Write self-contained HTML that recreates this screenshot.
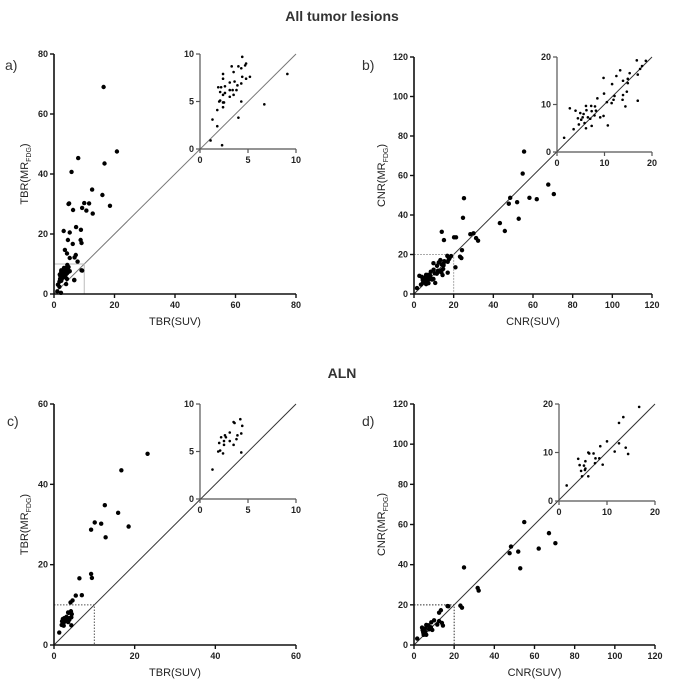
<!DOCTYPE html>
<html><head><meta charset="utf-8"><style>
body{margin:0;background:#fff;font-family:"Liberation Sans",Arial,sans-serif}
svg text{font-family:"Liberation Sans",Arial,sans-serif}
</style></head><body>
<svg id="fig" width="685" height="689" viewBox="0 0 685 689" xmlns="http://www.w3.org/2000/svg">
<text x="342" y="21" text-anchor="middle" font-size="14" font-weight="bold" fill="#333">All tumor lesions</text>
<text x="342" y="378" text-anchor="middle" font-size="14" font-weight="bold" fill="#333">ALN</text>
</svg>
<script>
// Panel a data
const aMainX=[16.4,20.8,16.7,8,5.8,12.6,16,18.5,12.8,10,11.6,10.7,9.3,6.3,4.8,5,3.2,5.2,7.3,8.9,4.6,8.8,9.1,6.2,3.6,4.3,7.2,6.8,5.2,9.3,6.7,7.8];
const aMainY=[69,47.5,43.5,45.3,40.7,34.8,33,29.4,26.8,30.3,30.2,27.8,28.7,28,30,30.2,21,20.5,22.3,21.4,18,18,17,16.7,14.7,13.5,13,12.2,12,7.8,4.6,10.8];
const aInX=[4.4,4.8,4.7,3.3,4.0,4.3,2.4,3.5,9.1,5.2,4.4,4.8,2.4,3.1,3.6,2.6,1.9,2.2,3.9,4.3,3.1,3.4,2.1,2.6,3.8,2.4,3.1,3.5,2.1,2.0,2.4,2.5,4.3,2.4,1.8,1.3,4.0,1.8,6.7,1.1,2.3];
const aInY=[9.7,9.0,8.8,8.7,8.7,8.5,7.9,8.1,7.9,7.6,7.6,7.4,7.4,7.0,7.1,6.6,6.5,6.5,6.7,6.9,6.2,6.2,6.0,5.9,6.2,5.7,5.5,5.7,5.1,5.0,4.9,4.9,5.0,4.4,4.1,3.1,3.3,2.4,4.7,0.9,0.4];
// Panel b data
const bMainX=[55.5,54.8,67.7,70.5,48.5,58.2,61.9,47.8,52,52.8,43.3,45.8,25.2,24.7,14,15.1,20.2,21.2,28.4,30,31.3,32.3,24.2,23.2,23.9,20.9];
const bMainY=[72.1,61,55.4,50.6,48.7,48.7,48,45.7,46.5,38.1,35.9,31.9,48.5,38.6,31.5,27.3,28.7,28.7,30.3,30.7,28.3,27,22.2,18.9,18.2,13.5];
const bInX=[18.7,17.9,17.5,16.8,17.0,15.3,14.9,13.3,12.5,11.6,9.8,13.9,14.9,14.7,13.9,13.8,14.4,17.0,12.1,11.9,11.5,10.5,9.9,8.5,2.7,3.9,6.1,7.2,4.9,5.6,6.2,7.3,8.2,8.0,4.4,5.4,6.5,7.0,7.9,9.8,9.1,5.1,5.8,4.6,3.5,6.1,7.3,10.7,1.5];
const bInY=[19.2,18.1,17.5,19.3,16.3,16.6,15.4,17.2,16.0,14.3,15.6,15.0,14.5,12.7,12.0,11.0,9.6,10.8,11.8,11.0,10.3,10.5,12.3,11.3,9.2,8.7,9.7,9.7,8.2,8.0,8.8,8.6,8.7,9.6,7.1,7.3,7.3,7.0,7.7,7.6,7.3,6.8,6.1,5.8,4.8,5.0,5.5,5.6,3.0];
// Panel c data
const cMainX=[23.2,16.7,12.6,15.9,10.1,11.7,18.5,9.2,12.8,9.2,9.4,6.3,5.4,6.9,4.6,4.1];
const cMainY=[47.6,43.5,34.8,32.9,30.5,30.2,29.5,28.7,26.8,17.7,16.7,16.6,12.3,12.4,11.1,10.6];
const cInX=[1.3,1.9,2.1,2.4,2.0,2.2,2.5,2.6,2.7,2.5,3.1,3.1,3.5,3.6,3.5,3.8,3.9,4.2,4.4,4.3,4.3];
const cInY=[3.1,5.0,5.1,4.8,5.9,6.5,6.1,6.7,6.5,5.7,7.0,6.1,8.1,8.0,5.7,6.3,6.7,8.4,7.7,6.9,4.9];
// Panel d data
const dMainX=[54.9,67.2,70.4,48.3,47.6,51.9,62.1,52.9,24.9,31.7,32.2,17.1,23.1,23.9];
const dMainY=[61.2,55.7,50.7,49.0,45.7,46.5,48.0,38.2,38.6,28.4,27.1,19.3,19.6,18.6];
const dInX=[16.7,13.4,12.5,10.0,12.5,11.6,13.9,14.4,8.6,6.1,6.3,7.2,7.6,8.4,4.0,5.5,4.3,5.2,9.1,7.5,4.6,5.5,5.4,4.8,6.1,1.6];
const dInY=[19.4,17.3,16.1,12.3,11.9,10.2,11.0,9.7,11.3,10.0,9.8,9.8,8.8,8.8,8.7,8.2,7.4,7.3,7.5,7.8,6.2,6.7,6.4,5.1,5.1,3.2];
// Tick labels
const aTicks=[0,20,40,60,80], aInTicks=[0,5,10];
const bTicks=[0,20,40,60,80,100,120], bInTicks=[0,10,20];
const cTicks=[0,20,40,60], cInTicks=[0,5,10];
const dTicks=[0,20,40,60,80,100,120], dInTicks=[0,10,20];

const NS='http://www.w3.org/2000/svg';
const svg=document.getElementById('fig');
function mk(tag,attrs,parent){const e=document.createElementNS(NS,tag);for(const k in attrs)e.setAttribute(k,attrs[k]);(parent||svg).appendChild(e);return e;}

function panel(p){
  const g=mk('g',{});
  
  
  const sx=v=>p.x0+(v/p.max)*(p.x1-p.x0);
  const sy=v=>p.y0-(v/p.max)*(p.y0-p.y1);
  const ix=v=>p.ix0+(v/p.imax)*(p.ix1-p.ix0);
  const iy=v=>p.iy0-(v/p.imax)*(p.iy0-p.iy1);
  // diagonal through full range
  const dl=mk('line',{x1:sx(0),y1:sy(0),x2:sx(p.max),y2:sy(p.max),stroke:p.diagColor,'stroke-width':1},g);
  
  
  // zoom box
  const bx=mk('path',{d:`M${sx(0)},${sy(p.imax)}H${sx(p.imax)}V${sy(0)}`,fill:'none',stroke:p.boxColor,'stroke-width':1,'stroke-dasharray':p.boxDash},g);
  
  
  // main axes
  const ax=mk('path',{d:`M${p.x0},${p.y1}V${p.y0}H${p.x1}`,fill:'none',stroke:'#111','stroke-width':1.6},g);
  
  
  p.ticks.forEach(t=>{
    mk('line',{x1:sx(t),y1:p.y0,x2:sx(t),y2:p.y0+4,stroke:'#111','stroke-width':1.4},g);
    const tx=mk('text',{x:sx(t),y:p.y0+14,'text-anchor':'middle','font-size':9,'font-weight':'bold',fill:'#222'},g);
    tx.textContent=t;
    
    
    mk('line',{x1:p.x0-4,y1:sy(t),x2:p.x0,y2:sy(t),stroke:'#111','stroke-width':1.4},g);
    const ty=mk('text',{x:p.x0-6,y:sy(t)+3,'text-anchor':'end','font-size':9,'font-weight':'bold',fill:'#222'},g);
    ty.textContent=t;
    
    
  });
  // inset axes
  const ia=mk('path',{d:`M${p.ix0},${p.iy1}V${p.iy0}H${p.ix1}`,fill:'none',stroke:'#555','stroke-width':1.2},g);
  
  
  p.iticks.forEach(t=>{
    mk('line',{x1:ix(t),y1:p.iy0,x2:ix(t),y2:p.iy0+4,stroke:'#555','stroke-width':1.2},g);
    const tx=mk('text',{x:ix(t),y:p.iy0+14,'text-anchor':'middle','font-size':9,'font-weight':'bold',fill:'#222'},g);
    tx.textContent=t;
    
    
    mk('line',{x1:p.ix0-4,y1:iy(t),x2:p.ix0,y2:iy(t),stroke:'#555','stroke-width':1.2},g);
    const ty=mk('text',{x:p.ix0-6,y:iy(t)+3,'text-anchor':'end','font-size':9,'font-weight':'bold',fill:'#222'},g);
    ty.textContent=t;
    
    
  });
  // main points (outliers + inset points)
  const allX=p.mx.concat(p.inx), allY=p.my.concat(p.iny);
  allX.forEach((v,i)=>{
    const c=mk('circle',{cx:sx(v),cy:sy(allY[i]),r:2.2,fill:'#000'},g);
    
    
  });
  p.inx.forEach((v,i)=>{
    const c=mk('circle',{cx:ix(v),cy:iy(p.iny[i]),r:1.3,fill:'#000'},g);
    
    
  });
  // labels
  const xl=mk('text',{x:(p.x0+p.x1)/2,y:p.y0+31,'text-anchor':'middle','font-size':11,fill:'#222'},g);
  xl.textContent=p.xlab;
  
  
  const yc=(p.y0+p.y1)/2;
  const yl=mk('text',{x:0,y:0,'text-anchor':'middle','font-size':11,fill:'#222',transform:`translate(${p.ylx},${yc}) rotate(-90)`},g);
  yl.innerHTML=p.ylab+'(MR<tspan font-size="7" dy="3">FDG</tspan><tspan dy="-3">)</tspan>';
  
  
  const pl=mk('text',{x:p.lx,y:p.ly,'font-size':14,fill:'#333'},g);
  pl.textContent=p.id+')';
  
  
}
panel({id:'a',x0:54,x1:296,y0:294,y1:54,max:80,ix0:200,ix1:296,iy0:149,iy1:54,imax:10,ticks:aTicks,iticks:aInTicks,mx:aMainX,my:aMainY,inx:aInX,iny:aInY,xlab:'TBR(SUV)',ylab:'TBR',ylx:28,lx:5,ly:70,diagColor:'#777',boxColor:'#bbb',boxDash:'none'});
panel({id:'b',x0:414,x1:652,y0:294,y1:57,max:120,ix0:557,ix1:652,iy0:152,iy1:57,imax:20,ticks:bTicks,iticks:bInTicks,mx:bMainX,my:bMainY,inx:bInX,iny:bInY,xlab:'CNR(SUV)',ylab:'CNR',ylx:385,lx:362,ly:70,diagColor:'#333',boxColor:'#aaa',boxDash:'2,1'});
panel({id:'c',x0:54,x1:296,y0:645,y1:404,max:60,ix0:200,ix1:296,iy0:499,iy1:404,imax:10,ticks:cTicks,iticks:cInTicks,mx:cMainX,my:cMainY,inx:cInX,iny:cInY,xlab:'TBR(SUV)',ylab:'TBR',ylx:28,lx:7,ly:426,diagColor:'#333',boxColor:'#555',boxDash:'1.5,1.5'});
panel({id:'d',x0:414,x1:655,y0:645,y1:404,max:120,ix0:559,ix1:655,iy0:501,iy1:404,imax:20,ticks:dTicks,iticks:dInTicks,mx:dMainX,my:dMainY,inx:dInX,iny:dInY,xlab:'CNR(SUV)',ylab:'CNR',ylx:385,lx:362,ly:426,diagColor:'#333',boxColor:'#333',boxDash:'1.5,1.5'});
</script>
</body></html>
